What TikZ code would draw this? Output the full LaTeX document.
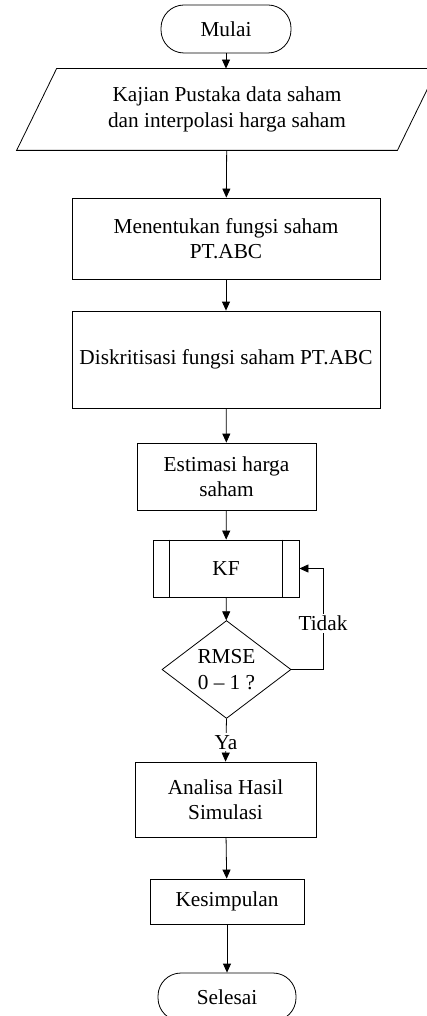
\documentclass[tikz,border=0pt]{standalone}
\usepackage{fontspec}
\setmainfont{Liberation Serif}
\usetikzlibrary{shapes.geometric,arrows.meta,positioning,calc}

\begin{document}
\begin{tikzpicture}[x=1pt,y=-1pt,
    font=\fontsize{21.3}{25.5}\selectfont,
    every node/.style={align=center, inner sep=0pt, line width=0.8pt},
    terminal/.style={draw, rounded corners=23pt, minimum height=48pt},
    process/.style={draw, rectangle},
    decision/.style={draw, diamond, minimum width=129pt, minimum height=95pt},
    arr/.style={-{Triangle[length=9pt,width=8pt]}, line width=0.8pt}]
    \useasboundingbox (0,0) rectangle (426,1016);
    % nodes
    \node[terminal, minimum width=130pt] (mulai) at (226,29) {Mulai};
    \node[minimum width=340pt, minimum height=81pt] (kajian) at (227,109.5)
        {Kajian Pustaka data saham\\dan interpolasi harga saham};
    \draw[line width=0.8pt] (kajian.north west) -- ([xshift=40pt]kajian.north east)
        -- (kajian.south east) -- ([xshift=-40pt]kajian.south west) -- cycle;
    \node[process, minimum width=308pt, minimum height=81pt] (fungsi) at (226,238.5)
        {Menentukan fungsi saham\\PT.ABC};
    \node[process, minimum width=308pt, minimum height=97pt] (diskrit) at (226,359.5)
        {Diskritisasi fungsi saham PT.ABC};
    \node[process, minimum width=179pt, minimum height=67pt] (estimasi) at (226.5,476.5)
        {Estimasi harga\\saham};
    \node[process, minimum width=146pt, minimum height=57pt] (kf) at (226,568.5) {KF};
    \draw[line width=0.8pt] ([xshift=17pt]kf.north west) -- ([xshift=17pt]kf.south west)
        ([xshift=-17pt]kf.north east) -- ([xshift=-17pt]kf.south east);
    \node[decision] (rmse) at (226.5,669.5) {RMSE\\0 -- 1 ?};
    \node[process, minimum width=181pt, minimum height=75pt] (analisa) at (225.5,799.5)
        {Analisa Hasil\\Simulasi};
    \node[process, minimum width=154pt, minimum height=45pt] (kesimpulan) at (227,901.5)
        {Kesimpulan};
    \node[terminal, minimum width=138pt] (selesai) at (227,997) {Selesai};
    % connectors
    \draw[arr] (mulai) -- (mulai |- kajian.north);
    \draw[arr] (kajian) -- (fungsi);
    \draw[arr] (fungsi) -- (diskrit);
    \draw[arr] (diskrit) -- (estimasi);
    \draw[arr] (estimasi) -- (kf);
    \draw[arr] (kf) -- (rmse);
    \coordinate (loop) at (323,669.5);
    \draw[arr] (rmse.east) -- (loop) |- node[pos=0.23, fill=white, inner sep=2pt] (tidak) {Tidak} (kf.east);
    \draw[arr] (rmse.south) -- node[pos=0.55, fill=white, inner sep=2pt] (ya) {Ya} (analisa.north);
    \draw[arr] (analisa) -- (kesimpulan);
    \draw[arr] (kesimpulan) -- (selesai);
\end{tikzpicture}
\end{document}
